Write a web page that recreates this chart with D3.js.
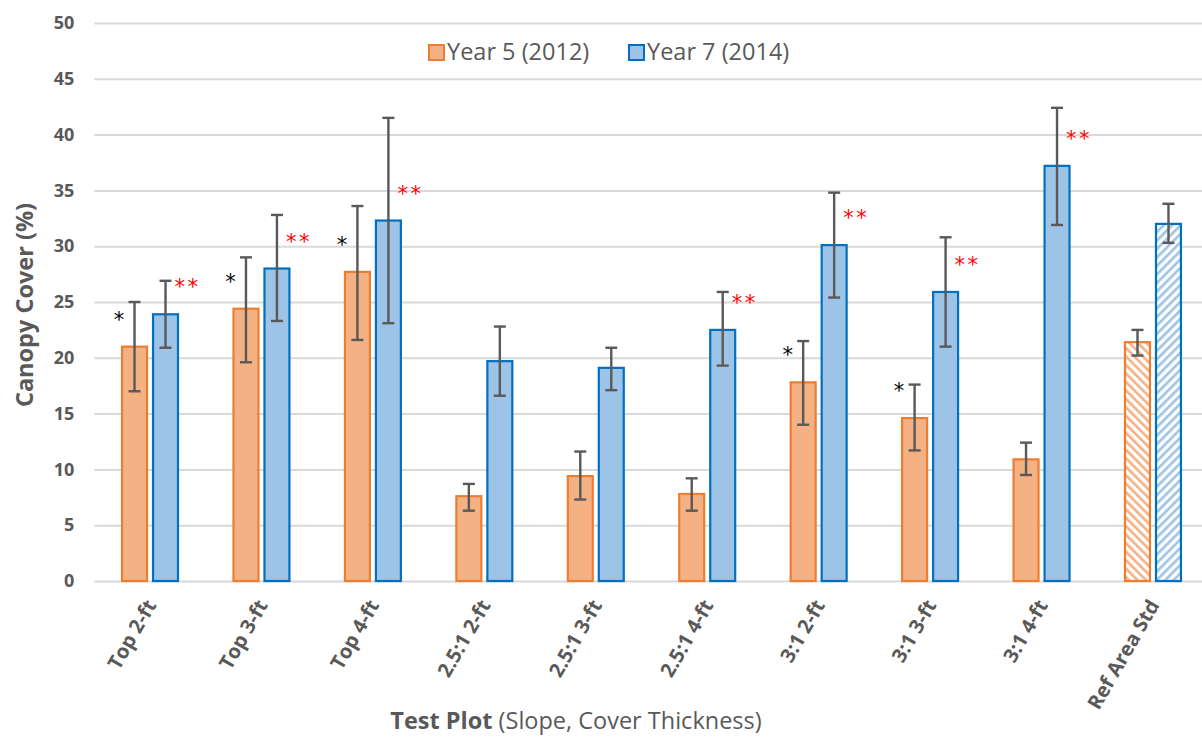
<!DOCTYPE html>
<html>
<head>
<meta charset="utf-8">
<script src="https://cdn.jsdelivr.net/npm/d3@7"></script>
<style>
  html, body { margin: 0; padding: 0; background: #fff; }
  svg { display: block; font-family: "Open Sans", Lato, sans-serif; }
</style>
</head>
<body>
<svg id="chart" width="1202" height="738"></svg>
<script>
// Canopy cover by test plot, year 5 vs year 7 (mean with error range)
const categories = ["Top 2-ft", "Top 3-ft", "Top 4-ft", "2.5:1 2-ft", "2.5:1 3-ft",
                    "2.5:1 4-ft", "3:1 2-ft", "3:1 3-ft", "3:1 4-ft", "Ref Area Std"];
const seriesNames = ["Year 5 (2012)", "Year 7 (2014)"];

const year5   = [21.0, 24.4, 27.7, 7.6, 9.4, 7.8, 17.8, 14.6, 10.9, 21.4];
const year5Lo = [17.0, 19.6, 21.6, 6.3, 7.3, 6.3, 14.0, 11.7, 9.5, 20.2];
const year5Hi = [25.0, 29.0, 33.6, 8.7, 11.6, 9.2, 21.5, 17.6, 12.4, 22.5];

const year7   = [23.9, 28.0, 32.3, 19.7, 19.1, 22.5, 30.1, 25.9, 37.2, 32.0];
const year7Lo = [20.9, 23.3, 23.1, 16.6, 17.1, 19.3, 25.4, 21.0, 31.9, 30.3];
const year7Hi = [26.9, 32.8, 41.5, 22.8, 20.9, 25.9, 34.8, 30.8, 42.4, 33.8];

// significance markers
const year5Marks = ["*", "*", "*", "", "", "", "*", "*", "", ""];
const year7Marks = ["**", "**", "**", "", "", "**", "**", "**", "**", ""];

const yTicks = [0, 5, 10, 15, 20, 25, 30, 35, 40, 45, 50];
const referenceCategory = "Ref Area Std";

const colors = {
  fill:   ["#F4B183", "#9DC3E6"],
  stroke: ["#ED7D31", "#0070C0"],
  grid: "#D9D9D9",
  text: "#595959",
  err: "#595959"
};

const svg = d3.select("#chart");

const plot = { left: 94.3, right: 1208.7, top: 23, bottom: 581 };

const y = d3.scaleLinear().domain([0, 50]).range([plot.bottom, plot.top]);
const x = d3.scaleBand().domain(categories).range([plot.left, plot.right])
  .paddingInner(0.48).paddingOuter(0.24);
const xs = d3.scaleBand().domain([0, 1]).range([0, x.bandwidth()]).paddingInner(0.13);

// hatch patterns for the reference bars
const defs = svg.append("defs");
function hatch(id, color, dir) {
  const p = defs.append("pattern").attr("id", id)
    .attr("patternUnits", "userSpaceOnUse").attr("width", 6).attr("height", 6)
    .attr("patternTransform", `rotate(${dir * 45})`);
  p.append("rect").attr("width", 6).attr("height", 6).attr("fill", "#fff");
  p.append("rect").attr("x", 0).attr("y", 0).attr("width", 2.6).attr("height", 6).attr("fill", color);
}
hatch("hatch0", colors.fill[0], -1);
hatch("hatch1", colors.fill[1], 1);

// gridlines and y tick labels
const yAxis = d3.axisLeft(y).tickValues(yTicks).tickSize(-(1202 - plot.left)).tickPadding(20);
const gy = svg.append("g").attr("transform", `translate(${plot.left},0)`).call(yAxis);
gy.select(".domain").remove();
gy.selectAll(".tick line").attr("stroke", colors.grid).attr("stroke-width", 2);
gy.selectAll(".tick text")
  .attr("fill", colors.text)
  .style("font-size", "18px").style("font-weight", "bold")
  .style("font-family", "'Open Sans', sans-serif");

// category labels
const xAxis = d3.axisBottom(x).tickSize(0).tickPadding(0);
const gx = svg.append("g").attr("transform", `translate(0,${plot.bottom})`).call(xAxis);
gx.select(".domain").remove();
gx.selectAll(".tick text")
  .attr("fill", colors.text)
  .style("font-size", "20px").style("font-weight", "bold")
  .style("font-family", "'Open Sans', sans-serif")
  .attr("text-anchor", "end")
  .attr("y", 0).attr("dy", 0)
  .attr("transform", "translate(7,24) rotate(-60)");

// bars
const rows = categories.map((c, i) => ({
  cat: c,
  vals: [
    { s: 0, v: year5[i], lo: year5Lo[i], hi: year5Hi[i], mark: year5Marks[i] },
    { s: 1, v: year7[i], lo: year7Lo[i], hi: year7Hi[i], mark: year7Marks[i] }
  ]
}));

const groups = svg.append("g").selectAll("g").data(rows).join("g")
  .attr("transform", d => `translate(${x(d.cat)},0)`);

const items = groups.selectAll("g.item").data(d => d.vals.map(v => ({ ...v, cat: d.cat })))
  .join("g").attr("class", "item");

items.append("rect")
  .attr("x", d => xs(d.s) + 1)
  .attr("width", xs.bandwidth() - 2)
  .attr("y", d => y(d.v))
  .attr("height", d => y(0) - y(d.v))
  .attr("fill", d => d.cat === referenceCategory ? `url(#hatch${d.s})` : colors.fill[d.s])
  .attr("stroke", d => colors.stroke[d.s])
  .attr("stroke-width", 2.2);

// error bars
const cx = d => xs(d.s) + xs.bandwidth() / 2;
items.append("line")
  .attr("x1", cx).attr("x2", cx)
  .attr("y1", d => y(d.lo)).attr("y2", d => y(d.hi))
  .attr("stroke", colors.err).attr("stroke-width", 2.4);
items.selectAll("line.cap").data(d => [{ ...d, at: d.lo }, { ...d, at: d.hi }]).join("line")
  .attr("class", "cap")
  .attr("x1", d => cx(d) - 6).attr("x2", d => cx(d) + 6)
  .attr("y1", d => y(d.at)).attr("y2", d => y(d.at))
  .attr("stroke", colors.err).attr("stroke-width", 2.4);

// significance markers
items.filter(d => d.mark).append("text")
  .attr("x", d => cx(d) + (d.s === 0 ? -15.5 : 22))
  .attr("y", d => y(d.v) - 33)
  .attr("dy", "0.62em")
  .attr("text-anchor", "middle")
  .attr("font-size", 21)
  .attr("letter-spacing", d => d.s === 1 ? 2.5 : 0)
  .attr("font-family", "'DejaVu Sans', sans-serif")
  .attr("fill", d => d.s === 0 ? "#000" : "#FF0000")
  .text(d => d.mark);

// legend
const legend = svg.append("g").attr("transform", "translate(428,44)");
const li = legend.selectAll("g").data(seriesNames).join("g")
  .attr("transform", (d, i) => `translate(${i * 200},0)`);
li.append("rect").attr("x", 1).attr("y", 1).attr("width", 15).attr("height", 15)
  .attr("fill", (d, i) => colors.fill[i]).attr("stroke", (d, i) => colors.stroke[i]).attr("stroke-width", 2);
li.append("text").attr("x", 19).attr("y", 16)
  .attr("font-size", 23.5).attr("fill", colors.text)
  .text(d => d);

// axis titles
svg.append("text")
  .attr("transform", "translate(33,305) rotate(-90)")
  .attr("text-anchor", "middle")
  .attr("font-size", 23.5).attr("font-weight", "bold").attr("fill", colors.text)
  .text("Canopy Cover (%)");

const xt = svg.append("text")
  .attr("x", 576).attr("y", 729)
  .attr("text-anchor", "middle")
  .attr("font-size", 23.5).attr("fill", colors.text);
xt.append("tspan").attr("font-weight", "bold").text("Test Plot");
xt.append("tspan").text(" (Slope, Cover Thickness)");
</script>
</body>
</html>
